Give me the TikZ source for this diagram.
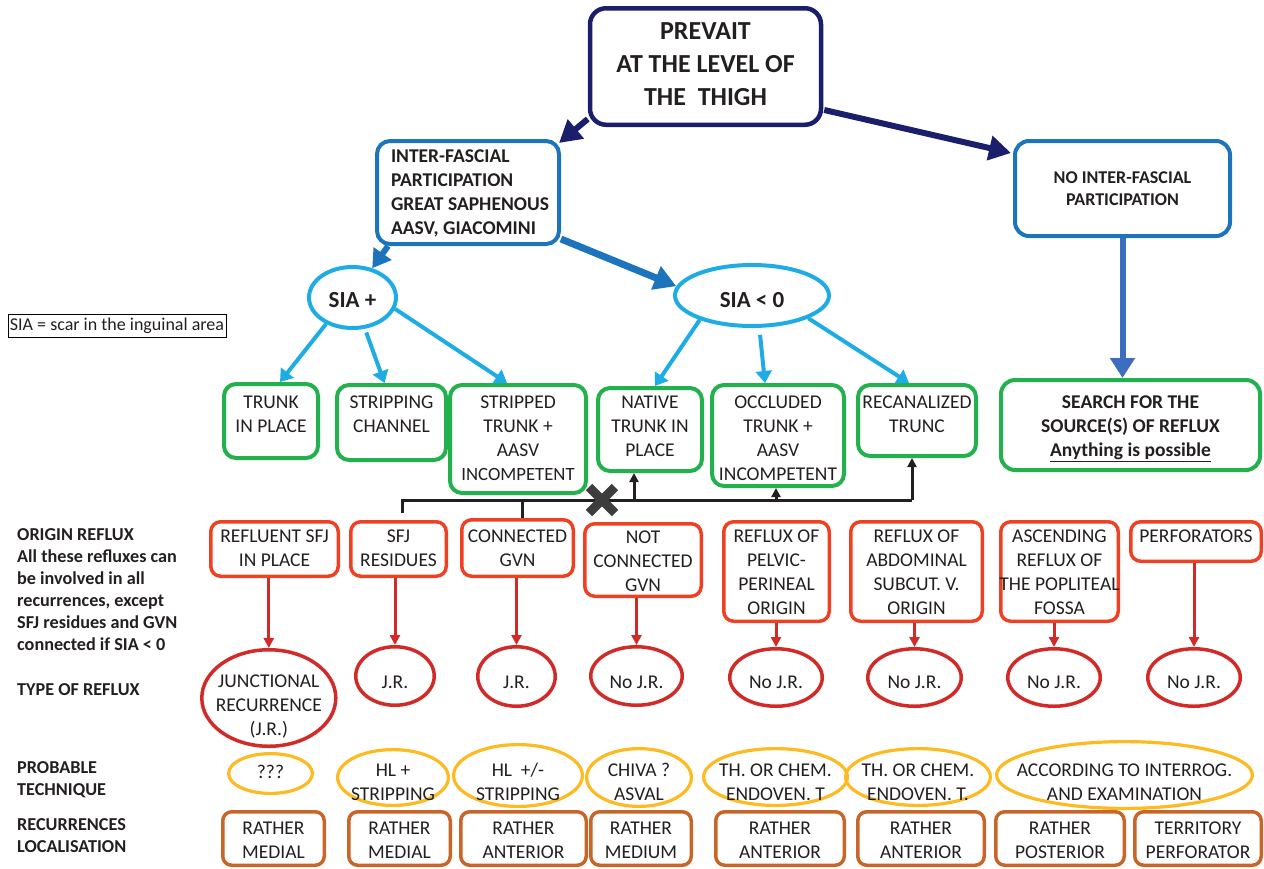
\documentclass[tikz,border=0pt]{standalone}
\usepackage{fontspec}
\setmainfont{Carlito}
\usetikzlibrary{arrows.meta,shapes.geometric,calc}
\definecolor{navy}{HTML}{1B1E6B}
\definecolor{ifblue}{HTML}{1C75BC}
\definecolor{sky}{HTML}{1DACE3}
\definecolor{vblue}{HTML}{3B6EC0}
\definecolor{grn}{HTML}{22B14C}
\definecolor{redb}{HTML}{EE4124}
\definecolor{rede}{HTML}{D12A27}
\definecolor{yel}{HTML}{FDBA21}
\definecolor{brn}{HTML}{C8662A}
\definecolor{txt}{HTML}{231F20}
\definecolor{xgray}{HTML}{3D3D3D}
\newcommand\bxt[4]{\parbox[c][#2pt][t]{#1pt}{\centering\vspace*{#3pt}\strut#4\par}}
\newcommand\bxl[4]{\parbox[c][#2pt][t]{#1pt}{\raggedright\leftskip=14pt\vspace*{#3pt}\strut#4\par}}
\begin{document}
\begin{tikzpicture}[x=1pt,y=-1pt,
  bxbase/.style={inner sep=0pt, text=txt, font=\fontsize{19.5}{24}\selectfont},
  gbox/.style={bxbase, draw=grn, line width=4pt, rounded corners=12pt},
  rbox/.style={bxbase, draw=redb, line width=3.5pt, rounded corners=10pt},
  brbox/.style={bxbase, draw=brn, line width=3.5pt, rounded corners=9pt},
  ellbase/.style={ellipse, inner sep=0pt},
  rell/.style={ellbase, draw=rede, line width=3.5pt},
  yell/.style={ellbase, draw=yel, line width=3.2pt},
  sell/.style={ellbase, draw=sky, line width=4pt},
  lab/.style={inner sep=0pt, align=center, text=txt, font=\fontsize{19.5}{24}\selectfont},
  leftlab/.style={inner sep=0pt, align=left, anchor=north west, text=txt, font=\bfseries\fontsize{18.2}{22}\selectfont},
  navyarr/.style={draw=navy, line width=6pt, -{Triangle[length=22pt,width=24pt]}},
  ifarrA/.style={draw=ifblue, line width=6pt, -{Triangle[length=18pt,width=21pt]}},
  ifarrB/.style={draw=ifblue, line width=7pt, -{Triangle[length=22pt,width=24pt]}},
  skyarr/.style={draw=sky, line width=4pt, -{Triangle[length=12pt,width=16pt]}},
  varr/.style={draw=vblue, line width=6pt, -{Triangle[length=20pt,width=24pt]}},
  rarr/.style={draw=rede, line width=3pt, -{Triangle[length=10pt,width=10pt]}},
  blk/.style={draw=txt, line width=3pt},
  blkarr/.style={blk, -{Triangle[length=9pt,width=9pt]}},
  xmk/.style={draw=xgray, line width=9pt}
]
\useasboundingbox (0,0) rectangle (1264,868);

% ---- top levels
\node[bxbase, draw=navy, line width=4.5pt, rounded corners=16pt, font=\bfseries\fontsize{26}{33}\selectfont] (top) at (705.5,66.5) {\bxt{231}{116.5}{7.85}{PREVAIT\\AT THE LEVEL OF\\THE\ \ THIGH}};
\node[bxbase, draw=ifblue, line width=4pt, rounded corners=13pt, font=\bfseries\fontsize{19.5}{24}\selectfont] (inter) at (468,192.5) {\bxl{182}{103}{4.4}{INTER-FASCIAL\\PARTICIPATION\\GREAT SAPHENOUS\\AASV, GIACOMINI}};
\node[bxbase, draw=ifblue, line width=4pt, rounded corners=14pt, font=\bfseries\fontsize{18}{22}\selectfont] (noint) at (1122.5,188.5) {\bxt{215}{95}{27.3}{NO INTER-FASCIAL\\PARTICIPATION}};

\node[sell, minimum width=87, minimum height=61, label={[lab, font=\bfseries\fontsize{23}{28}\selectfont, yshift=-3pt]center:{SIA +}}] (siap) at (352.5,297.5) {};
\node[sell, minimum width=154, minimum height=61, label={[lab, font=\bfseries\fontsize{23}{28}\selectfont, yshift=-5pt]center:{SIA < 0}}] (siam) at (752,295.5) {};

\node[bxbase, draw=grn, line width=4pt, rounded corners=14pt, font=\bfseries\fontsize{19.5}{24}\selectfont] (search) at (1130.5,425) {\bxt{259}{90}{11.4}{SEARCH FOR THE\\SOURCE(S) OF REFLUX\\\underline{Anything is possible}}};

\node[draw=black, line width=0.8pt, minimum width=218, minimum height=23, inner sep=0pt, text=txt, font=\fontsize{18}{22}\selectfont] (legend) at (117,325.5) {SIA = scar in the inguinal area};

% ---- green boxes
\node[gbox] (t1) at (271,421) {\bxt{94}{74}{7.4}{TRUNK\\IN PLACE}};
\node[gbox] (t2) at (391.5,422.5) {\bxt{109}{75}{6.4}{STRIPPING\\CHANNEL}};
\node[gbox] (t3) at (518,439) {\bxt{136}{108}{6.4}{STRIPPED\\TRUNK +\\AASV\\{\fontsize{18.7}{24}\selectfont INCOMPETENT}}};
\node[gbox] (t4) at (650,429.5) {\bxt{104}{83}{3.4}{NATIVE\\TRUNK IN\\PLACE}};
\node[gbox] (t5) at (778,435.5) {\bxt{132}{101}{6.4}{OCCLUDED\\TRUNK +\\AASV\\INCOMPETENT}};
\node[gbox] (t6) at (917,420.5) {\bxt{118}{71}{6.4}{RECANALIZED\\TRUNC}};

% ---- red boxes (origin of reflux)
\node[rbox] (r1) at (274.5,549) {\bxt{127.5}{54.5}{3.6}{REFLUENT SFJ\\IN PLACE}};
\node[rbox] (r2) at (398.5,549) {\bxt{95.5}{54.5}{3.6}{SFJ\\RESIDUES}};
\node[rbox] (r3) at (517.5,548) {\bxt{111.5}{56.5}{5.6}{CONNECTED\\GVN}};
\node[rbox] (r4) at (643,560) {\bxt{116.5}{72.5}{2.6}{NOT\\CONNECTED\\GVN}};
\node[rbox] (r5) at (776.5,571.5) {\bxt{105.5}{99.5}{3.6}{REFLUX OF\\PELVIC-\\PERINEAL\\ORIGIN}};
\node[rbox] (r6) at (916.5,571.5) {\bxt{131.5}{99.5}{3.6}{REFLUX OF\\ABDOMINAL\\SUBCUT. V.\\ORIGIN}};
\node[rbox] (r7) at (1059.5,571.5) {\bxt{117.5}{99.5}{3.6}{ASCENDING\\REFLUX OF\\\makebox[\linewidth]{THE POPLITEAL}\\FOSSA}};
\node[rbox] (r8) at (1196,541.5) {\bxt{130.5}{39.5}{3.6}{PERFORATORS}};

% ---- red ellipses (type of reflux)
\node[rell, minimum width=134, minimum height=96.5, label={[lab, yshift=-9pt]center:{JUNCTIONAL\\RECURRENCE\\(J.R.)}}] (e1) at (268.8,698) {};
\node[rell, minimum width=78.5, minimum height=58.5, label={[lab, yshift=-6pt]center:{J.R.}}] (e2) at (395,676) {};
\node[rell, minimum width=77.5, minimum height=59.5, label={[lab, yshift=-6pt]center:{J.R.}}] (e3) at (516.5,676.5) {};
\node[rell, minimum width=91.5, minimum height=58.5, label={[lab, yshift=-6pt]center:{No J.R.}}] (e4) at (636.5,676) {};
\node[rell, minimum width=92.5, minimum height=57.5, label={[lab, yshift=-4.5pt]center:{No J.R.}}] (e5) at (776,677.5) {};
\node[rell, minimum width=93.5, minimum height=57.5, label={[lab, yshift=-4.5pt]center:{No J.R.}}] (e6) at (914.5,677.5) {};
\node[rell, minimum width=92.5, minimum height=57.5, label={[lab, yshift=-4.5pt]center:{No J.R.}}] (e7) at (1054,677.5) {};
\node[rell, minimum width=92.5, minimum height=57.5, label={[lab, yshift=-4.5pt]center:{No J.R.}}] (e8) at (1194,677.5) {};

% ---- yellow ellipses (probable technique)
\node[yell, minimum width=83.8, minimum height=39.8, label={[lab, yshift=1.5pt]center:{???}}] (y1) at (270.5,773.5) {};
\node[yell, minimum width=110.8, minimum height=55.8, label={[lab, yshift=-4.5pt]center:{HL +\\STRIPPING}}] (y2) at (393,777.5) {};
\node[yell, minimum width=128.8, minimum height=61.8, label={[lab, yshift=-6.5pt]center:{HL\ \ +/-\\STRIPPING}}] (y3) at (518,775.5) {};
\node[yell, minimum width=104.8, minimum height=57.8, label={[lab, yshift=-4.5pt]center:{CHIVA ?\\ASVAL}}] (y4) at (639,777.5) {};
\node[yell, minimum width=143.8, minimum height=56.8, label={[lab, yshift=-5pt]center:{TH. OR CHEM.\\ENDOVEN. T}}] (y5) at (775.5,777) {};
\node[yell, minimum width=144.8, minimum height=56.8, label={[lab, yshift=-5pt]center:{TH. OR CHEM.\\ENDOVEN. T.}}] (y6) at (918,777) {};
\node[yell, minimum width=255.8, minimum height=66.8, label={[lab, yshift=-7pt]center:{ACCORDING TO INTERROG.\\AND EXAMINATION}}] (y7) at (1124.5,775) {};

% ---- brown boxes (recurrences localisation)
\node[brbox] (b1) at (273.5,838.5) {\bxt{101.5}{53.5}{5.6}{RATHER\\MEDIAL}};
\node[brbox] (b2) at (399.5,838.5) {\bxt{101.5}{53.5}{5.6}{RATHER\\MEDIAL}};
\node[brbox] (b3) at (523.5,838.5) {\bxt{125.5}{53.5}{5.6}{RATHER\\ANTERIOR}};
\node[brbox] (b4) at (641,838.5) {\bxt{100.5}{53.5}{5.6}{RATHER\\MEDIUM}};
\node[brbox] (b5) at (780,838.5) {\bxt{128.5}{53.5}{5.6}{RATHER\\ANTERIOR}};
\node[brbox] (b6) at (921,838.5) {\bxt{126.5}{53.5}{5.6}{RATHER\\ANTERIOR}};
\node[brbox] (b7) at (1060,838.5) {\bxt{128.5}{53.5}{5.6}{RATHER\\POSTERIOR}};
\node[brbox] (b8) at (1198,838.5) {\bxt{126.5}{53.5}{5.6}{TERRITORY\\PERFORATOR}};

% ---- left row labels
\node[leftlab] (lorig) at (17,525.3) {\strut ORIGIN REFLUX\\All these refluxes can\\be involved in all\\recurrences, except\\SFJ residues and GVN\\connected if SIA < 0};
\node[leftlab] (ltype) at (17,680.3) {\strut TYPE OF REFLUX};
\node[leftlab] (ltech) at (17,758.3) {\strut PROBABLE\\TECHNIQUE};
\node[leftlab] (lloc) at (17,815.3) {\strut RECURRENCES\\LOCALISATION};

% ---- connectors
\draw[navyarr] ($(top.south west)+(0,-8)$) -- ($(inter.north east)+(-2,4)$);
\draw[navyarr] ($(top.south east)+(1,-17)$) -- ($(noint.north west)+(-2,14)$);
\draw[ifarrA] ($(inter.south west)+(13,0)$) -- (siap.56);
\draw[ifarrB] ($(inter.south east)+(0,-7)$) -- (siam.173);
\draw[varr] (noint.south) -- (noint.south |- search.north);

\draw[skyarr] (siap.225) -- ($(t1.north)+(9,0)$);
\draw[skyarr] ($(siap.294)+(0,4)$) -- ($(t2.north)+(-7,0)$);
\draw[skyarr] (siap.345) -- ($(t3.north)+(-11,0)$);
\draw[skyarr] (siam.205) -- ($(t4.north)+(5,0)$);
\draw[skyarr] ($(siam.284)+(0,7)$) -- ($(t5.north)+(-13,0)$);
\draw[skyarr] (siam.338) -- ($(t6.north)+(-8,0)$);

\foreach \r/\e in {r1/e1,r2/e2,r3/e3,r4/e4,r5/e5,r6/e6,r7/e7,r8/e8}
  \draw[rarr] (\e.north |- \r.south) -- (\e.north);

% ---- black bracket
\coordinate (k1) at (402,513);
\coordinate (k2) at (912,500);
\coordinate (k3) at (522,500);
\coordinate (k4) at (634,500);
\coordinate (k5) at (776,500);
\coordinate (kx) at (602,500);
\draw[blk] (k1) |- (k2);
\draw[blk] (k3) -- (k3 |- r3.north);
\draw[blkarr] (k4) -- (k4 |- t4.south);
\draw[blkarr] (k5) -- (k5 |- t5.south);
\draw[blkarr] (k2) -- (k2 |- t6.south);
\draw[xmk] ($(kx)+(-13,-13)$) -- ($(kx)+(13,13)$);
\draw[xmk] ($(kx)+(-13,13)$) -- ($(kx)+(13,-13)$);
\end{tikzpicture}
\end{document}
